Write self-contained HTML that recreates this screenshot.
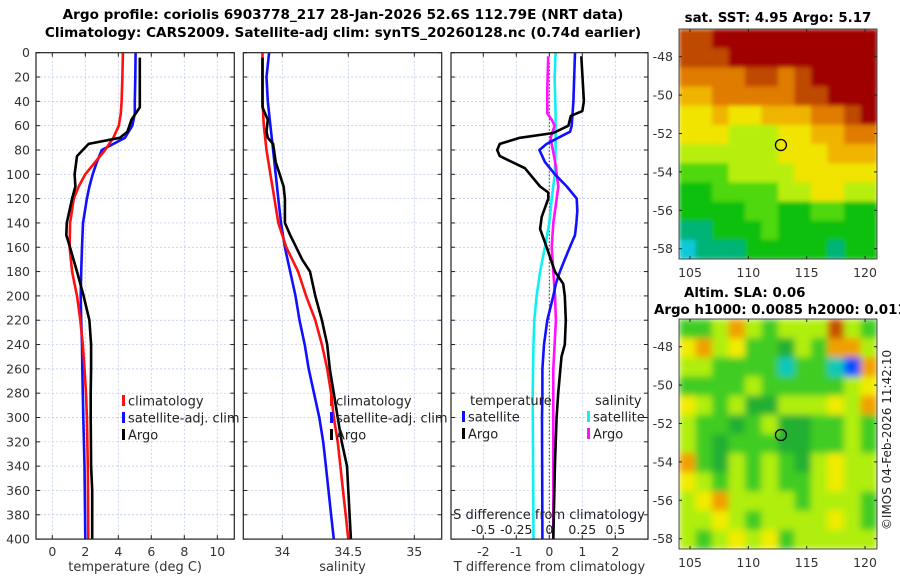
<!DOCTYPE html>
<html><head><meta charset="utf-8"><style>
html,body{margin:0;padding:0;background:#fff;}
svg{display:block;font-family:"DejaVu Sans","Liberation Sans",sans-serif;}
</style></head><body>
<svg id="fig" width="900" height="580" viewBox="0 0 900 580" xmlns="http://www.w3.org/2000/svg">
<text x="343" y="19" text-anchor="middle" font-size="13.6" font-weight="bold" fill="#000">Argo profile: coriolis 6903778_217 28-Jan-2026 52.6S 112.79E (NRT data)</text>
<text x="343" y="37" text-anchor="middle" font-size="13.6" font-weight="bold" fill="#000">Climatology: CARS2009. Satellite-adj clim: synTS_20260128.nc (0.74d earlier)</text>
<text x="778" y="22" text-anchor="middle" font-size="13.4" font-weight="bold" fill="#000">sat. SST: 4.95 Argo: 5.17</text>
<text x="684" y="297" font-size="13.4" font-weight="bold" fill="#000">Altim. SLA: 0.06</text>
<text x="654" y="314" font-size="13.4" font-weight="bold" fill="#000">Argo h1000: 0.0085 h2000: 0.011</text>
<text transform="translate(891,440) rotate(-90)" text-anchor="middle" font-size="12" fill="#222">©IMOS 04-Feb-2026 11:42:10</text>
</svg>
<script>
// ---- profile data (depth in m) ----
const tDepth = [0,20,40,50,60,70,80,90,100,110,120,140,160,180,200,220,240,260,280,300,340,400];
const tClim  = [4.28,4.25,4.2,4.15,4.03,3.7,3.2,2.6,2.0,1.6,1.3,1.08,1.05,1.2,1.5,1.7,1.85,1.95,2.04,2.1,2.15,2.18];
const tSat   = [5.05,5.03,5.0,5.0,4.85,4.4,3.0,2.7,2.45,2.25,2.1,1.86,1.8,1.75,1.72,1.75,1.8,1.82,1.85,1.88,1.95,2.0];
const argoDepth = [4,20,45,55,65,70,75,85,100,110,120,140,150,160,180,200,220,240,260,280,300,340,360,400];
const tArgo  = [5.3,5.3,5.3,4.8,4.55,4.1,2.2,1.5,1.35,1.4,1.2,0.88,0.85,1.07,1.5,1.9,2.25,2.35,2.35,2.33,2.33,2.35,2.42,2.42];
const sDepth = [0,20,40,60,80,100,120,140,160,180,200,220,240,260,280,300,320,340,360,380,400];
const sClim  = [33.85,33.85,33.85,33.86,33.88,33.91,33.94,33.97,34.03,34.12,34.18,34.25,34.30,34.34,34.37,34.39,34.42,34.44,34.46,34.48,34.50];
const sSat   = [33.90,33.88,33.89,33.91,33.93,33.95,33.97,33.99,34.02,34.06,34.10,34.13,34.17,34.20,34.24,34.28,34.31,34.33,34.35,34.37,34.39];
const sArgoDepth = [4,45,50,55,65,70,75,90,100,110,120,140,150,170,180,200,220,240,260,280,300,320,340,360,400];
const sArgo  = [33.85,33.85,33.87,33.89,33.88,33.89,33.93,33.95,33.98,34.01,34.02,34.02,34.06,34.15,34.21,34.25,34.30,34.34,34.36,34.39,34.42,34.45,34.49,34.50,34.52];
// differences
const dDepthT = [3,40,48,52,60,66,70,75,80,85,95,110,115,120,135,145,160,180,190,200,220,240,250,280,300,340,400];
const dTArgo = [0.97,1.05,1.0,0.65,0.58,0.12,-0.89,-1.5,-1.58,-1.5,-0.74,-0.28,-0.03,-0.03,-0.23,-0.28,-0.08,0.17,0.42,0.47,0.5,0.47,0.37,0.27,0.22,0.17,0.12];
const dDepthS = [0,40,60,65,70,75,80,90,100,110,120,130,140,150,160,170,180,190,200,220,240,260,280,300,400];
const dTSat  = [0.78,0.73,0.68,0.63,0.27,-0.08,-0.3,-0.13,0.17,0.53,0.83,0.85,0.82,0.78,0.62,0.47,0.32,0.2,0.12,-0.06,-0.16,-0.21,-0.21,-0.22,-0.21];
const dSSatDepth = [0,20,50,80,100,120,140,160,180,200,220,240,280,400];
const dSSat  = [0.048,0.04,0.048,0.048,0.042,0.018,0,-0.033,-0.07,-0.096,-0.114,-0.12,-0.126,-0.12];
const dSArgoDepth = [3,30,50,55,60,70,75,90,100,110,120,140,160,180,200,220,260,300,400];
const dSArgo = [-0.008,-0.015,-0.015,0.018,0.04,0.01,0.018,0.045,0.056,0.068,0.056,0.03,0.018,0.03,0.043,0.05,0.03,0.03,0.03];
const depthTicks = [0,20,40,60,80,100,120,140,160,180,200,220,240,260,280,300,320,340,360,380,400];
const tTicks = [0,2,4,6,8,10];
const sTicks = [34,34.5,35];
const dTTicks = [-2,-1,0,1,2];
const dSTicks = [-0.5,-0.25,0,0.25,0.5];
const dSTickLabels = ["-0.5","-0.25","0","0.25","0.5"];
// ---- maps ----
const mapLonTicks = [105,110,115,120];
const mapLatTicks = [-48,-50,-52,-54,-56,-58];
const sstGrid = [
[8,8,9,9,9,9,9,9,9,9,9,9],
[8,8,8,9,9,9,9,9,9,9,9,9],
[7,7,7,7,8,8,7,8,9,9,9,9],
[6,6,7,7,7,7,7,8,8,9,9,9],
[5,5,6,5,5,6,6,6,7,7,8,9],
[5,5,5,4,4,4,5,5,6,6,7,7],
[4,4,4,4,4,4,5,5,5,6,6,6],
[3,3,3,4,4,4,4,5,5,5,5,5],
[2,2,3,3,3,3,4,4,5,5,4,4],
[2,2,2,2,3,3,2,2,3,3,2,2],
[1,1,2,2,2,3,2,2,2,2,2,2],
[0,1,1,1,2,2,2,2,2,1,2,2]];
const sstColors = ["#10c8d8","#00b478","#10c010","#50d810","#b8ee10","#f0e400","#f0b400","#e07c00","#c04800","#a00000"];
const slaGrid = [
[3,3,4,6,4,3,4,4,4,7,4,3],
[5,6,4,5,3,3,2,4,3,6,6,4],
[4,4,3,3,3,3,1,3,3,1,0,6],
[3,3,3,3,4,3,3,3,3,3,4,5],
[5,4,3,4,2,2,4,4,4,5,4,6],
[4,3,3,2,3,4,2,2,3,3,4,3],
[4,3,2,3,3,3,2,2,3,3,4,3],
[6,3,2,4,3,4,3,2,4,5,4,4],
[5,4,3,4,3,4,3,3,4,5,4,4],
[4,5,6,4,4,4,4,3,4,4,4,3],
[4,4,5,4,3,4,4,4,4,5,4,3],
[4,3,4,5,4,5,3,4,4,4,4,4]];
const slaColors = ["#0050ff","#10c8b8","#20b030","#40cc20","#b0ee10","#f0ec00","#f0a000","#c85000"];
const argoLon = 112.79, argoLat = -52.6;

const NS="http://www.w3.org/2000/svg";
const svg=document.getElementById('fig');
function el(tag,attrs,parent){const e=document.createElementNS(NS,tag);for(const k in attrs)e.setAttribute(k,attrs[k]);(parent||svg).appendChild(e);return e;}

const Y0=52.7, YS=1.216;
const yD=d=>Y0+d*YS;
const PB=yD(400);

function panel(name,x0,x1,xs,gridX,tickLabels,labelVals,xTitle,yLabels){
  const g=el('g',{});
  
  
  el('rect',{x:x0,y:Y0,width:x1-x0,height:PB-Y0,fill:'#fff'},g);
  depthTicks.forEach(d=>{const l=el('line',{x1:x0,x2:x1,y1:yD(d),y2:yD(d),stroke:'#b8c4ec','stroke-width':0.7,'stroke-dasharray':'2,2'},g);
    });
  gridX.forEach(v=>{const l=el('line',{x1:xs(v),x2:xs(v),y1:Y0,y2:PB,stroke:'#b8c4ec','stroke-width':0.7,'stroke-dasharray':'2,2'},g);
    });
  depthTicks.forEach(d=>{el('line',{x1:x0,x2:x0+4,y1:yD(d),y2:yD(d),stroke:'#222'},g);el('line',{x1:x1-4,x2:x1,y1:yD(d),y2:yD(d),stroke:'#222'},g);
    if(yLabels){const t=el('text',{x:x0-6,y:yD(d)+4.5,'text-anchor':'end','font-size':12.5,fill:'#333'},g);t.textContent=d;
      }});
  gridX.forEach((v,i)=>{el('line',{x1:xs(v),x2:xs(v),y1:PB-4,y2:PB,stroke:'#222'},g);el('line',{x1:xs(v),x2:xs(v),y1:Y0,y2:Y0+4,stroke:'#222'},g);
    const t=el('text',{x:xs(v),y:PB+17,'text-anchor':'middle','font-size':12.5,fill:'#333'},g);t.textContent=tickLabels[i];
    });
  const tt=el('text',{x:(x0+x1)/2,y:PB+32,'text-anchor':'middle','font-size':13,fill:'#333'},g);tt.textContent=xTitle;
  
  return g;
}
function line(g,xs,vals,depths,color,name){
  const pts=vals.map((v,i)=>xs(v).toFixed(1)+','+yD(depths[i]).toFixed(1)).join(' ');
  const p=el('polyline',{points:pts,fill:'none',stroke:color,'stroke-width':2.6,'stroke-linejoin':'round'},g);
  
}
function legend(g,x,y,items){
  items.forEach((it,i)=>{
    el('rect',{x:x,y:y+i*17-6,width:3,height:11,fill:it[1]},g);
    const t=el('text',{x:x+6,y:y+i*17+4.5,'font-size':13,fill:'#222'},g);t.textContent=it[0];
    
  });
}
function frame(g,x0,x1){el('rect',{x:x0,y:Y0,width:x1-x0,height:PB-Y0,fill:'none',stroke:'#222','stroke-width':1.2},g);}

// Panel 1 temperature
const xT=v=>52.3+v*16.5;
let g1=panel('temperature-panel',36,234.3,xT,tTicks,tTicks.map(String),tTicks,'temperature (deg C)',true);
line(g1,xT,tSat,tDepth,'#1010ff','temp-satellite-line');
line(g1,xT,tClim,tDepth,'#ff1010','temp-climatology-line');
line(g1,xT,tArgo,argoDepth,'#000','temp-argo-line');
legend(g1,122,401,[['climatology','#ff1010'],['satellite-adj. clim','#1010ff'],['Argo','#000']]);
frame(g1,36,234.3);
// Panel 2 salinity
const xS=v=>282.3+(v-34)*132;
let g2=panel('salinity-panel',243.3,441.7,xS,sTicks,['34','34.5','35'],sTicks,'salinity',false);
line(g2,xS,sSat,sDepth,'#1010ff','sal-satellite-line');
line(g2,xS,sClim,sDepth,'#ff1010','sal-climatology-line');
line(g2,xS,sArgo,sArgoDepth,'#000','sal-argo-line');
legend(g2,330,401,[['climatology','#ff1010'],['satellite-adj. clim','#1010ff'],['Argo','#000']]);
frame(g2,243.3,441.7);
// Panel 3 differences
const xDT=v=>549.3+v*33;
const xDS=v=>549.3+v*132;
let g3=panel('difference-panel',451,648,xDT,dTTicks,dTTicks.map(String),dTTicks,'T difference from climatology',false);
el('line',{x1:xDT(0),x2:xDT(0),y1:Y0+10,y2:PB,stroke:'#333','stroke-width':1,'stroke-dasharray':'1.5,2'},g3);
line(g3,xDS,dSSat,dSSatDepth,'#10f0f0','sdiff-satellite-line');
line(g3,xDS,dSArgo,dSArgoDepth,'#ff10ff','sdiff-argo-line');
line(g3,xDT,dTSat,dDepthS,'#1010ff','tdiff-satellite-line');
line(g3,xDT,dTArgo,dDepthT,'#000','tdiff-argo-line');
let tl=el('text',{x:470,y:405,'font-size':13,fill:'#222'},g3);tl.textContent='temperature';

let sl=el('text',{x:595,y:405,'font-size':13,fill:'#222'},g3);sl.textContent='salinity';

legend(g3,462,417,[['satellite','#1010ff'],['Argo','#000']]);
legend(g3,587,417,[['satellite','#10f0f0'],['Argo','#ff10ff']]);
let sa=el('text',{x:549,y:519,'text-anchor':'middle','font-size':13,fill:'#222'},g3);sa.textContent='S difference from climatology';

dSTicks.forEach((v,i)=>{const t=el('text',{x:xDS(v),y:534,'text-anchor':'middle','font-size':12.5,fill:'#222'},g3);t.textContent=dSTickLabels[i];
  });
frame(g3,451,648);

// maps
function map(name,top,grid,colors,blur){
  const g=el('g',{});
  
  
  const lonX=l=>690+(l-105)*11.67;
  const latY=l=>top+27.7+(-48-l)*19.2;
  const X0=679,X1=877,Yt=top,Yb=top+230;
  const cw=(X1-X0)/grid[0].length, ch=(Yb-Yt)/grid.length;
  const cg=el('g',blur?{filter:'url(#'+blur+')','clip-path':'url(#clip-'+name+')'}:{},g);
  grid.forEach((row,r)=>row.forEach((v,c)=>{
    const cell=el('rect',{x:(X0+c*cw).toFixed(2),y:(Yt+r*ch).toFixed(2),width:(cw+0.6).toFixed(2),height:(ch+0.6).toFixed(2),fill:colors[v]},cg);
    
    
  }));
  el('rect',{x:X0,y:Yt,width:X1-X0,height:Yb-Yt,fill:'none',stroke:'#222','stroke-width':0.8},g);
  mapLatTicks.forEach(l=>{el('line',{x1:X0,x2:X0+3,y1:latY(l),y2:latY(l),stroke:'#222'},g);el('line',{x1:X1-3,x2:X1,y1:latY(l),y2:latY(l),stroke:'#222'},g);
    const t=el('text',{x:673,y:latY(l)+4.5,'text-anchor':'end','font-size':12.5,fill:'#333'},g);t.textContent=l;
    });
  mapLonTicks.forEach(l=>{el('line',{x1:lonX(l),x2:lonX(l),y1:Yb-3,y2:Yb,stroke:'#222'},g);el('line',{x1:lonX(l),x2:lonX(l),y1:Yt,y2:Yt+3,stroke:'#222'},g);
    const t=el('text',{x:lonX(l),y:Yb+18,'text-anchor':'middle','font-size':12.5,fill:'#333'},g);t.textContent=l;
    });
  const m=el('circle',{cx:lonX(argoLon),cy:latY(argoLat),r:5.5,fill:'none',stroke:'#000','stroke-width':1.3},g);
  
}
const defs=el('defs',{});
const f=el('filter',{id:'bl',x:'0',y:'0',width:'1',height:'1'},defs);
el('feGaussianBlur',{stdDeviation:'3.5',edgeMode:'duplicate'},f);
const f2=el('filter',{id:'bl2',x:'0',y:'0',width:'1',height:'1'},defs);
el('feGaussianBlur',{stdDeviation:'2',edgeMode:'duplicate'},f2);
const cp=el('clipPath',{id:'clip-sla-map'},defs);
el('rect',{x:679,y:319,width:198,height:230},cp);
const cp2=el('clipPath',{id:'clip-sst-map'},defs);
el('rect',{x:679,y:29,width:198,height:230},cp2);
map('sst-map',29,sstGrid,sstColors,'bl2');
map('sla-map',319,slaGrid,slaColors,'bl');
</script>
</body></html>
